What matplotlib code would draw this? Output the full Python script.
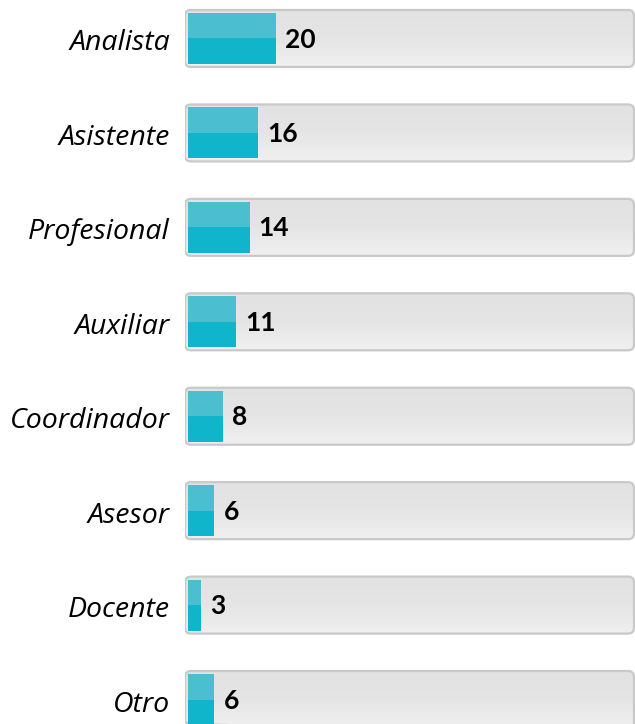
import numpy as np
import matplotlib.pyplot as plt
from matplotlib.patches import FancyBboxPatch
from matplotlib.colors import LinearSegmentedColormap

# puestos y cantidades
puestos = ["Analista", "Asistente", "Profesional", "Auxiliar",
           "Coordinador", "Asesor", "Docente", "Otro"]
valores = [20, 16, 14, 11, 8, 6, 3, 6]

W, H = 635, 724
fig = plt.figure(figsize=(W / 100, H / 100), dpi=100)
plt.rcParams['font.family'] = ['Lato', 'DejaVu Sans']

# ejes: x desde el inicio de la barra (px 188), y en filas
x0_px = 185
ax = fig.add_axes([x0_px / W, 0, 1 - x0_px / W, 1])
px_x = 4.4          # px por unidad
px_y = 94.43        # px por fila
c0 = 38.5           # centro de la primera fila en px
ax.axis('off')

alto_fondo = 57 / px_y
alto_barra = 51 / px_y
izq = -3 / px_x
der = (634 - 188) / px_x
r = 6 / px_x
aspect = (1 / px_y) / (1 / px_x)

degradado = np.linspace(0, 1, 64).reshape(-1, 1)
cmap_fondo = LinearSegmentedColormap.from_list('fondo', ['#E3E2E3', '#E6E5E6', '#F0F0F0'])

for i, (p, v) in enumerate(zip(puestos, valores)):
    y0 = i - alto_fondo / 2
    fondo = FancyBboxPatch((izq, y0), der - izq, alto_fondo,
                           boxstyle=f"round,pad=0,rounding_size={r}",
                           mutation_aspect=aspect,
                           facecolor='none', edgecolor='#C9C9C9', linewidth=1.6,
                           zorder=2)
    ax.add_patch(fondo)
    img = ax.imshow(degradado, cmap=cmap_fondo, aspect='auto',
                    extent=(izq, der, y0 + alto_fondo, y0), zorder=1,
                    interpolation='bilinear')
    img.set_clip_path(fondo)

ys = list(range(len(puestos)))
# barra completa (tono oscuro) y mitad superior mas clara
ax.barh(ys, valores, height=alto_barra, color='#10B5CB', linewidth=0, zorder=3)
ax.barh([y - alto_barra / 4 for y in ys], valores, height=alto_barra / 2,
        color='#4BBFD0', linewidth=0, zorder=3)

ax.set_xlim(-(188 - x0_px) / px_x, (W - 188) / px_x)
ax.set_ylim((H - c0) / px_y, -c0 / px_y)

for i, (p, v) in enumerate(zip(puestos, valores)):
    ax.text(v + 9 / px_x, i + 1 / px_y, str(v), ha='left', va='center',
            fontsize=19, fontweight='bold', color='black', zorder=4)
    ax.text(-18 / px_x, i + 5 / px_y, p, ha='right', va='center',
            fontsize=20.5, fontstyle='italic', color='black', clip_on=False,
            family=['Open Sans', 'DejaVu Sans'])

fig.savefig('out.png', dpi=100)
